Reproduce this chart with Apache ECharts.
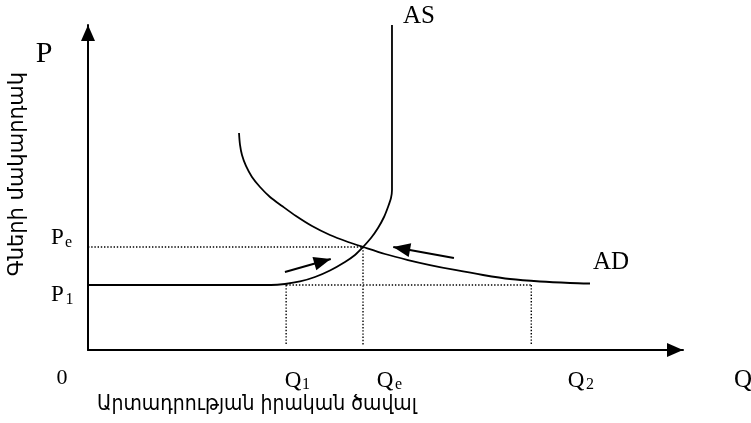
<!DOCTYPE html>
<html><head><meta charset="utf-8">
<script src="https://cdn.jsdelivr.net/npm/echarts@6/dist/echarts.min.js"></script>
<style>html,body{margin:0;padding:0;background:#fff}#c{width:751px;height:423px}</style>
</head><body><div id="c"></div>
<script>
// Quantity marks: Q1, Qe, Q2 ; price marks: P1, Pe
const qMarks = [33.3, 46.22, 74.5];
const pMarks = [20, 31.69];
// Aggregate supply (flat, rising, vertical)
const asCurve = [[0,20],[30.76,20],[33.11,20.31],[35.63,21.08],[38.15,22.46],[40.67,24.46],[43.19,27.08],[44.87,29.23],[46.22,31.69],[47.56,34.46],[48.74,37.54],[49.75,40.92],[50.42,44.0],[50.92,46.77],[51.09,49.23],[51.09,100]];
// Aggregate demand
const adCurve = [[25.38,66.77],[25.55,63.08],[25.88,60.0],[26.55,56.62],[27.56,53.23],[28.91,50.15],[30.59,47.08],[32.61,44.31],[34.96,41.23],[37.65,38.15],[40.67,35.38],[43.7,33.23],[46.22,31.69],[49.92,29.54],[53.78,27.69],[57.48,26.15],[61.68,24.62],[66.39,23.08],[70.92,21.85],[75.97,21.08],[81.01,20.62],[84.37,20.46]];
// Adjustment arrows [tail, tip]
const arrowRight = [[33.1,24.0],[40.8,28.0]];
const arrowLeft = [[61.5,28.3],[51.3,31.7]];
const curveNames = ['AS','AD'];
const axisNames = ['P','Q','0'];
const qLabels = [['Q','1'],['Q','e'],['Q','2']];
const pLabels = [['P','1'],['P','e']];
const yTitle = 'Գների մակարդակ';
const xTitle = 'Արտադրության իրական ծավալ';

const chart = echarts.init(document.getElementById('c'), null, {renderer:'canvas'});
const BLACK = '#000';
const serif = '"Liberation Serif", "Times New Roman", serif';
const sans = '"DejaVu Sans", sans-serif';
const dot = {color: BLACK, width: 1.4, type: [1.4, 1.8]};

function guide(pts){
  return {type:'line', data: pts, showSymbol:false, symbol:'none', silent:true, animation:false,
    lineStyle: dot, z: 1};
}
function txt(x, y, s, size, fam, align, rot, sx){
  return {type:'text', x: x, y: y, rotation: rot || 0, scaleX: sx || 1, silent: true,
    style:{text: s, fontSize: size, fontFamily: fam, fill: BLACK,
      align: align || 'center', textAlign: align || 'center',
      verticalAlign: 'middle', textVerticalAlign: 'middle'}};
}

const [Q1, Qe, Q2] = qMarks;
const [P1, Pe] = pMarks;

const graphics = [
  txt(44, 54, axisNames[0], 30, serif),
  txt(743, 380, axisNames[1], 25, serif),
  txt(62, 378, axisNames[2], 22, serif),
  txt(57.5, 238, pLabels[1][0], 23, serif), txt(65, 243, pLabels[1][1], 16, serif, 'left'),
  txt(57.5, 295, pLabels[0][0], 23, serif), txt(65.5, 300, pLabels[0][1], 16, serif, 'left'),
  txt(293, 380.5, qLabels[0][0], 23, serif), txt(302, 384.5, qLabels[0][1], 16, serif, 'left'),
  txt(385, 380.5, qLabels[1][0], 23, serif), txt(395, 385, qLabels[1][1], 16, serif, 'left'),
  txt(576, 380.5, qLabels[2][0], 23, serif), txt(586, 384.5, qLabels[2][1], 16, serif, 'left'),
  txt(403, 16, curveNames[0], 25, serif, 'left'),
  txt(593, 262, curveNames[1], 25, serif, 'left'),
  txt(97, 405, xTitle, 21, sans, 'left', 0, 0.9),
  txt(18, 174, yTitle, 21, sans, 'center', Math.PI/2)
];

const option = {
  backgroundColor: '#fff',
  animation: false,
  grid: {left: 88, top: 25, width: 595, height: 325, containLabel: false},
  xAxis: {type:'value', min:0, max:100,
    axisLine:{show:true, onZero:false, lineStyle:{color:BLACK, width:2},
      symbol:['none','triangle'], symbolSize:[14,16], symbolOffset:[0,-8]},
    axisTick:{show:false}, axisLabel:{show:false}, splitLine:{show:false}},
  yAxis: {type:'value', min:0, max:100,
    axisLine:{show:true, onZero:false, lineStyle:{color:BLACK, width:2},
      symbol:['none','triangle'], symbolSize:[14,16], symbolOffset:[0,-8]},
    axisTick:{show:false}, axisLabel:{show:false}, splitLine:{show:false}},
  series: [
    guide([[0,Pe],[Qe,Pe]]),
    guide([[Qe,Pe],[Qe,1.5]]),
    guide([[Q1,P1],[Q2,P1]]),
    guide([[Q1,P1],[Q1,1.5]]),
    guide([[Q2,P1],[Q2,1.5]]),
    {name:'AS', type:'line', data: asCurve, smooth:0.3, showSymbol:false, symbol:'none',
      lineStyle:{color:BLACK, width:1.8}, silent:true, z:3},
    {name:'AD', type:'line', data: adCurve, smooth:0.3, showSymbol:false, symbol:'none',
      lineStyle:{color:BLACK, width:1.8}, silent:true, z:3},
    {name:'arrows', type:'line', data: [], silent:true, z:4,
      markLine:{silent:true, animation:false, symbol:['none','triangle'], symbolSize:[14,17],
        symbolOffset:[0,[0,8.5]], label:{show:false},
        lineStyle:{color:BLACK, width:2, type:'solid'},
        emphasis:{disabled:true},
        data:[
          [{coord: arrowRight[0]}, {coord: arrowRight[1]}],
          [{coord: arrowLeft[0]}, {coord: arrowLeft[1]}]
        ]}}
  ],
  graphic: graphics
};
chart.setOption(option);
</script></body></html>
